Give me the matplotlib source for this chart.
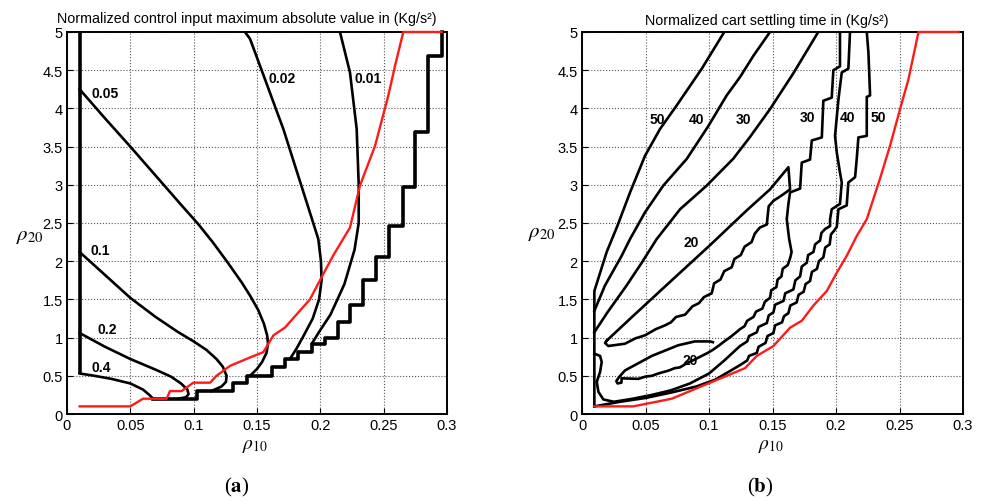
import matplotlib
matplotlib.use('Agg')
import matplotlib.pyplot as plt

plt.rcParams['font.family'] = ['Liberation Sans', 'DejaVu Sans']
plt.rcParams['mathtext.fontset'] = 'stix'

# ---------------- panel (a): control input maximum absolute value ----------------
a_edge_x = [0.01, 0.01]
a_edge_y = [0.53, 5.0]

a_c04_x = [0.01, 0.02, 0.035, 0.05, 0.06, 0.065, 0.068]
a_c04_y = [0.53, 0.505, 0.46, 0.40, 0.32, 0.25, 0.20]

a_c02_x = [0.01, 0.03, 0.05, 0.07, 0.082, 0.09, 0.095, 0.096, 0.094, 0.088]
a_c02_y = [1.06, 0.88, 0.72, 0.58, 0.49, 0.40, 0.32, 0.26, 0.22, 0.20]

a_c01_x = [0.01, 0.03, 0.05, 0.07, 0.087, 0.1, 0.11, 0.118, 0.123, 0.126, 0.1255, 0.122, 0.114]
a_c01_y = [2.12, 1.82, 1.52, 1.27, 1.08, 0.95, 0.84, 0.72, 0.62, 0.50, 0.42, 0.36, 0.30]

a_c005_x = [0.01, 0.03, 0.05, 0.07, 0.09, 0.1034, 0.115, 0.127, 0.138, 0.1445, 0.151, 0.1555,
            0.158, 0.1587, 0.1575, 0.154, 0.150, 0.1445]
a_c005_y = [4.25, 3.87, 3.50, 3.12, 2.74, 2.49, 2.25, 1.98, 1.72, 1.55, 1.36, 1.18,
            1.03, 0.92, 0.80, 0.68, 0.59, 0.50]

a_c002_x = [0.1405, 0.1445, 0.155, 0.165, 0.1708, 0.18, 0.19, 0.1984, 0.2005, 0.201, 0.199,
            0.194, 0.187, 0.181, 0.176]
a_c002_y = [5.0, 4.91, 4.44, 3.99, 3.73, 3.25, 2.73, 2.29, 2.0, 1.75, 1.5,
            1.25, 1.03, 0.85, 0.72]

a_c001_x = [0.2155, 0.2234, 0.2287, 0.2303, 0.2303, 0.227, 0.219, 0.208, 0.2, 0.1955, 0.1932]
a_c001_y = [5.0, 4.47, 3.73, 3.0, 2.5, 2.15, 1.7, 1.3, 1.1, 0.98, 0.92]

# staircase boundary (post steps)
a_stair_x = [0.068, 0.1024, 0.1313, 0.1418, 0.1615, 0.1721, 0.1826, 0.1932, 0.2037, 0.2142,
             0.2234, 0.2339, 0.2439, 0.2545, 0.265, 0.2747, 0.2853, 0.2958]
a_stair_y = [0.2, 0.3, 0.4, 0.5, 0.61, 0.72, 0.81, 0.92, 1.0, 1.2,
             1.43, 1.75, 2.05, 2.46, 2.97, 3.69, 4.69, 5.0]

a_red_x = [0.01, 0.05, 0.06, 0.0787, 0.0813, 0.0905, 0.0997, 0.113, 0.118, 0.1287, 0.1445,
           0.155, 0.163, 0.172, 0.1918, 0.201, 0.21, 0.2234, 0.2313, 0.2432, 0.2537, 0.259,
           0.2655, 0.2958]
a_red_y = [0.1, 0.1, 0.2, 0.2, 0.3, 0.3, 0.41, 0.41, 0.5, 0.63, 0.74,
           0.81, 1.03, 1.13, 1.5, 1.79, 2.07, 2.44, 2.99, 3.51, 4.17, 4.56,
           5.0, 5.0]

a_labels = ['0.05', '0.1', '0.2', '0.4', '0.02', '0.01']
a_label_x = [0.030, 0.026, 0.0316, 0.0268, 0.1697, 0.2376]
a_label_y = [4.20, 2.15, 1.11, 0.615, 4.40, 4.40]

# ---------------- panel (b): cart settling time ----------------
b_c50l_x = [0.0097, 0.0097, 0.0194, 0.0278, 0.0378, 0.0496, 0.0614, 0.0746, 0.0943, 0.112]
b_c50l_y = [0.1, 1.61, 2.12, 2.46, 2.9, 3.38, 3.73, 4.04, 4.52, 5.0]

b_c40l_x = [0.0097, 0.018, 0.0312, 0.0378, 0.0496, 0.064, 0.0825, 0.0995, 0.1139, 0.1244, 0.135, 0.148]
b_c40l_y = [1.35, 1.68, 2.07, 2.29, 2.64, 2.99, 3.34, 3.77, 4.17, 4.41, 4.69, 5.0]

b_c30l_x = [0.0097, 0.02, 0.035, 0.047, 0.0588, 0.0772, 0.0982, 0.119, 0.132, 0.148, 0.1664, 0.186]
b_c30l_y = [1.07, 1.33, 1.68, 1.98, 2.29, 2.68, 2.99, 3.34, 3.62, 3.99, 4.46, 5.0]

b_c20u_x = [0.0194, 0.04, 0.07, 0.1008, 0.13, 0.148, 0.1625, 0.1638, 0.158, 0.1507, 0.147, 0.1462,
            0.1455, 0.140, 0.136, 0.1335, 0.128, 0.125, 0.120, 0.1178, 0.112, 0.109, 0.104, 0.1021,
            0.096, 0.092, 0.087, 0.0811, 0.074, 0.070, 0.0653, 0.058, 0.0496, 0.042, 0.0338,
            0.0207, 0.0181, 0.0194]
b_c20u_y = [0.96, 1.28, 1.74, 2.21, 2.67, 2.94, 3.23, 2.94, 2.87, 2.79, 2.72, 2.60,
            2.48, 2.44, 2.36, 2.25, 2.19, 2.08, 2.03, 1.92, 1.87, 1.76, 1.71, 1.58,
            1.53, 1.45, 1.41, 1.30, 1.27, 1.20, 1.16, 1.11, 1.03, 0.99, 0.92,
            0.89, 0.93, 0.96]

b_c30r_x = [0.103, 0.1007, 0.0889, 0.0758, 0.0549, 0.0338, 0.029, 0.027, 0.028, 0.031, 0.0312,
            0.0443, 0.05, 0.055, 0.06, 0.0679, 0.073, 0.077, 0.0811, 0.087, 0.0942, 0.099, 0.103,
            0.1073, 0.112, 0.1178, 0.1244, 0.128, 0.130, 0.135, 0.137, 0.142, 0.144, 0.148, 0.149,
            0.153, 0.154, 0.157, 0.158, 0.162, 0.164, 0.165, 0.163, 0.1612, 0.1625, 0.1638, 0.1717,
            0.173, 0.1795, 0.1809, 0.1888, 0.19, 0.1966, 0.1979, 0.2031, 0.2031]
b_c30r_y = [0.94, 0.95, 0.95, 0.90, 0.76, 0.57, 0.48, 0.43, 0.40, 0.41, 0.467,
            0.46, 0.49, 0.50, 0.53, 0.567, 0.60, 0.61, 0.65, 0.70, 0.76, 0.80, 0.84,
            0.89, 0.95, 1.02, 1.11, 1.15, 1.22, 1.27, 1.34, 1.38, 1.47, 1.52, 1.62,
            1.66, 1.76, 1.80, 1.90, 1.95, 2.05, 2.12, 2.30, 2.55, 2.75, 2.90, 2.95,
            3.29, 3.33, 3.58, 3.62, 4.10, 4.14, 4.50, 4.55, 5.0]

b_c40r_x = [0.0097, 0.0142, 0.0155, 0.0142, 0.0116, 0.0129, 0.0168, 0.025, 0.04, 0.055, 0.07,
            0.085, 0.1, 0.112, 0.1244, 0.130, 0.1315, 0.1376, 0.139, 0.1455, 0.147, 0.1507, 0.152,
            0.1586, 0.160, 0.1664, 0.168, 0.1717, 0.173, 0.177, 0.178, 0.1822, 0.1835, 0.1874,
            0.1885, 0.1913, 0.1953, 0.1953, 0.1966, 0.2031, 0.2045, 0.2031, 0.2006, 0.1992,
            0.2019, 0.2045, 0.2097, 0.211]
b_c40r_y = [0.79, 0.76, 0.68, 0.55, 0.42, 0.29, 0.19, 0.16, 0.20, 0.25, 0.31,
            0.40, 0.53, 0.70, 0.89, 0.95, 1.02, 1.07, 1.14, 1.19, 1.29, 1.33, 1.43,
            1.48, 1.58, 1.63, 1.75, 1.80, 1.93, 1.98, 2.08, 2.12, 2.22, 2.27,
            2.37, 2.42, 2.46, 2.55, 2.68, 2.75, 3.03, 3.16, 3.42, 3.64,
            4.12, 4.47, 4.52, 5.0]

b_c50r_x = [0.0097, 0.03, 0.05, 0.07, 0.09, 0.105, 0.1244, 0.130, 0.1315, 0.1376, 0.139, 0.1445,
            0.146, 0.1507, 0.152, 0.1575, 0.159, 0.1625, 0.164, 0.169, 0.1705, 0.1745, 0.176,
            0.1795, 0.181, 0.185, 0.1865, 0.190, 0.1915, 0.195, 0.196, 0.1985, 0.2006, 0.2019,
            0.2084, 0.2097, 0.215, 0.2163, 0.2176, 0.2242, 0.2242, 0.2268, 0.2255, 0.2242]
b_c50r_y = [0.1, 0.16, 0.21, 0.28, 0.36, 0.45, 0.64, 0.70, 0.76, 0.80, 0.88, 0.93,
            1.02, 1.06, 1.16, 1.20, 1.28, 1.32, 1.42, 1.46, 1.56, 1.60, 1.70,
            1.74, 1.86, 1.90, 2.0, 2.05, 2.18, 2.22, 2.35, 2.40, 2.45, 2.68,
            2.73, 3.03, 3.10, 3.34, 3.62, 3.64, 4.15, 4.17, 4.73, 5.0]

b_red_x = [0.0097, 0.0404, 0.0706, 0.0994, 0.1125, 0.1283, 0.1376, 0.1507, 0.1638, 0.173, 0.1822,
           0.1927, 0.2006, 0.2084, 0.2163, 0.2242, 0.2346, 0.2425, 0.2504, 0.257, 0.2649, 0.2964]
b_red_y = [0.1, 0.1, 0.2, 0.4, 0.49, 0.6, 0.76, 0.89, 1.13, 1.22, 1.42,
           1.61, 1.85, 2.07, 2.33, 2.55, 3.08, 3.51, 3.99, 4.38, 5.0, 5.0]

b_labels = ['50', '40', '30', '30', '40', '50', '20', '20']
b_label_x = [0.0591, 0.0898, 0.1268, 0.1772, 0.2094, 0.2331, 0.0858, 0.0850]
b_label_y = [3.86, 3.86, 3.86, 3.89, 3.89, 3.89, 2.25, 0.71]

x_ticks = [0, 0.05, 0.1, 0.15, 0.2, 0.25, 0.3]
x_ticklabels = ['0', '0.05', '0.1', '0.15', '0.2', '0.25', '0.3']
y_ticks = [0, 0.5, 1, 1.5, 2, 2.5, 3, 3.5, 4, 4.5, 5]
y_ticklabels = ['0', '0.5', '1', '1.5', '2', '2.5', '3', '3.5', '4', '4.5', '5']

LW = 1.9
RED = '#ff1a1a'


def setup_axes(ax):
    ax.set_xlim(0, 0.3)
    ax.set_ylim(0, 5)
    ax.set_xticks(x_ticks)
    ax.set_xticklabels(x_ticklabels)
    ax.set_yticks(y_ticks)
    ax.set_yticklabels(y_ticklabels)
    ax.tick_params(direction='in', length=4, width=0.8, labelsize=10.5, pad=3)
    ax.grid(True, linestyle=':', color='#555555', linewidth=0.8)
    ax.set_axisbelow(True)
    for sp in ax.spines.values():
        sp.set_linewidth(1.4)
    # sits just under the 0.15 tick label, as in the original
    ax.text(0.495, -0.082, r'$\rho_{10}$', transform=ax.transAxes, fontsize=14,
            ha='center', va='center')


fig = plt.figure(figsize=(9.82, 5.02), dpi=100)
ax1 = fig.add_axes([0.0682, 0.1733, 0.387, 0.761])
ax2 = fig.add_axes([0.5927, 0.1733, 0.388, 0.761])
setup_axes(ax1)
setup_axes(ax2)

# panel (a)
ax1.plot(a_edge_x, a_edge_y, color='k', lw=2.6, solid_capstyle='butt')
for xs, ys in [(a_c04_x, a_c04_y), (a_c02_x, a_c02_y), (a_c01_x, a_c01_y),
               (a_c005_x, a_c005_y), (a_c002_x, a_c002_y), (a_c001_x, a_c001_y)]:
    ax1.plot(xs, ys, color='k', lw=LW)
ax1.step(a_stair_x, a_stair_y, where='post', color='k', lw=2.6, clip_on=False)
ax1.plot(a_red_x, a_red_y, color=RED, lw=1.7, clip_on=False, zorder=4)
for t, x, y in zip(a_labels, a_label_x, a_label_y):
    ax1.text(x, y, t, fontsize=10, fontweight='bold', ha='center', va='center')
ax1.text(-0.098, 0.468, r'$\rho_{20}$', transform=ax1.transAxes, fontsize=15,
         ha='center', va='center')

# panel (b)
for xs, ys in [(b_c50l_x, b_c50l_y), (b_c40l_x, b_c40l_y), (b_c30l_x, b_c30l_y),
               (b_c20u_x, b_c20u_y), (b_c30r_x, b_c30r_y), (b_c40r_x, b_c40r_y),
               (b_c50r_x, b_c50r_y)]:
    ax2.plot(xs, ys, color='k', lw=LW)
ax2.plot(b_red_x, b_red_y, color=RED, lw=1.7, clip_on=False, zorder=4)
for t, x, y in zip(b_labels, b_label_x, b_label_y):
    ax2.text(x, y, t, fontsize=10, fontweight='bold', ha='center', va='center')
ax2.text(-0.105, 0.476, r'$\rho_{20}$', transform=ax2.transAxes, fontsize=15,
         ha='center', va='center')

fig.text(247 / 982, 1 - 18.5 / 502, 'Normalized control input maximum absolute value in (Kg/s\u00b2)',
         fontsize=10.3, ha='center', va='center')
fig.text(767 / 982, 1 - 21.5 / 502, 'Normalized cart settling time in (Kg/s\u00b2)',
         fontsize=10.3, ha='center', va='center')

fig.text(237 / 982, 1 - 487 / 502, r'($\mathbf{a}$)', fontsize=15, ha='center', va='center',
         family='Liberation Serif')
fig.text(760 / 982, 1 - 487 / 502, r'($\mathbf{b}$)', fontsize=15, ha='center', va='center',
         family='Liberation Serif')

fig.savefig('out.png', dpi=100)
